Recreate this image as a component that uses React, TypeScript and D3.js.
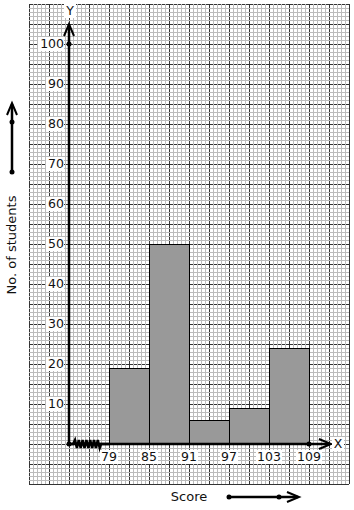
import React from "react";
import * as d3 from "d3";

const classEdges = [79, 85, 91, 97, 103, 109];
const frequencies = [19, 50, 6, 9, 24];
const yTicks = [10, 20, 30, 40, 50, 60, 70, 80, 90, 100];
const xLabel = "Score";
const yLabel = "No. of students";

const W = 354;
const H = 510;
const gx0 = 29, gx1 = 349, gy0 = 4, gy1 = 484;
const x = d3.scaleLinear().domain([79, 109]).range([109, 309]);
const y = d3.scaleLinear().domain([0, 100]).range([444, 44]);
const ox = 69;
const FONT = "DejaVu Sans, sans-serif";

export default function App() {
  const minorX = d3.range(gx0, gx1 + 0.1, 4);
  const minorY = d3.range(gy0, gy1 + 0.1, 4);
  const majorX = d3.range(gx0, gx1 + 0.1, 20);
  const majorY = d3.range(gy0, gy1 + 0.1, 20);
  const y0 = y(0);
  const zz: [number, number][] = [[ox, y0], [73, y0]];
  for (let i = 0; i < 7; i++) {
    const xs = 75 + i * 3.8;
    zz.push([xs, y0 - 4]);
    zz.push([xs + 1.9, y0 + 4]);
  }
  zz.push([101, y0]);
  zz.push([x(79), y0]);
  const line = d3.line();
  const label = (tx: number, ty: number, t: string, anchor: string, w: number) => (
    <g key={t + tx + ty}>
      <rect x={anchor === "end" ? tx - w : anchor === "middle" ? tx - w / 2 : tx} y={ty - 7} width={w} height={14} fill="#fff" />
      <text x={tx} y={ty} dy="0.35em" textAnchor={anchor as any} fontSize={12.5} fontFamily={FONT} fill="#111">{t}</text>
    </g>
  );
  return (
    <svg width={W} height={H} style={{ position: "absolute", left: 0, top: 0 }}>
      <rect x={0} y={0} width={W} height={H} fill="#fff" />
      {majorX.map((v) => <line key={"mx" + v} x1={v + 0.5} x2={v + 0.5} y1={gy0} y2={gy1} stroke="#333" strokeWidth={1} />)}
      {majorY.map((v) => <line key={"my" + v} x1={gx0} x2={gx1} y1={v + 0.5} y2={v + 0.5} stroke="#333" strokeWidth={1} />)}
      {minorX.filter((v) => (v - gx0) % 20 !== 0).map((v) => <line key={"nx" + v} x1={v + 0.5} x2={v + 0.5} y1={gy0} y2={gy1} stroke="#bbb" strokeWidth={1} />)}
      {minorY.filter((v) => (v - gy0) % 20 !== 0).map((v) => <line key={"ny" + v} x1={gx0} x2={gx1} y1={v + 0.5} y2={v + 0.5} stroke="#bbb" strokeWidth={1} />)}
      {frequencies.map((f, i) => (
        <rect key={"b" + i} x={x(classEdges[i]) + 0.5} y={y(f) + 0.5} width={x(classEdges[i + 1]) - x(classEdges[i])} height={y(0) - y(f)} fill="#999" stroke="#000" strokeWidth={1} />
      ))}
      <line x1={ox} x2={ox} y1={y0} y2={24} stroke="#000" strokeWidth={2.5} />
      <path d={`M${ox - 5},${36} L${ox},${24} L${ox + 5},${36}`} fill="none" stroke="#000" strokeWidth={2} />
      <circle cx={ox} cy={y(100)} r={2.5} fill="#000" />
      <line x1={ox} x2={330} y1={y0} y2={y0} stroke="#000" strokeWidth={2.5} />
      <path d={`M${319},${y0 - 5} L${331},${y0} L${319},${y0 + 5}`} fill="none" stroke="#000" strokeWidth={2} />
      <circle cx={x(109)} cy={y0} r={2.5} fill="#000" />
      <path d={line(zz) || ""} fill="none" stroke="#000" strokeWidth={2.5} />
      <circle cx={ox} cy={y0} r={2.5} fill="#000" />
      {yTicks.map((t) => label(64, y(t), String(t), "end", String(t).length * 8 + 2))}
      {classEdges.map((e) => label(x(e), 457, String(e), "middle", String(e).length * 8 + 2))}
      {label(70, 11, "Y", "middle", 12)}
      {label(338, y0, "X", "middle", 12)}
      <text x={189} y={496} dy="0.35em" textAnchor="middle" fontSize={13} fontFamily={FONT} fill="#111">{xLabel}</text>
      <text transform={`translate(11,245) rotate(-90)`} dy="0.35em" textAnchor="middle" fontSize={13} fontFamily={FONT} fill="#111">{yLabel}</text>
      <line x1={12} x2={12} y1={172} y2={104} stroke="#000" strokeWidth={2.5} />
      <path d="M7,115 L12,103 L17,115" fill="none" stroke="#000" strokeWidth={2} />
      <circle cx={12} cy={172} r={2.5} fill="#000" />
      <circle cx={12} cy={122} r={2.5} fill="#000" />
      <line x1={229} x2={298} y1={497} y2={497} stroke="#000" strokeWidth={2.5} />
      <path d="M287,492 L299,497 L287,502" fill="none" stroke="#000" strokeWidth={2} />
      <circle cx={229} cy={497} r={2.5} fill="#000" />
      <circle cx={279} cy={497} r={2.5} fill="#000" />
    </svg>
  );
}
